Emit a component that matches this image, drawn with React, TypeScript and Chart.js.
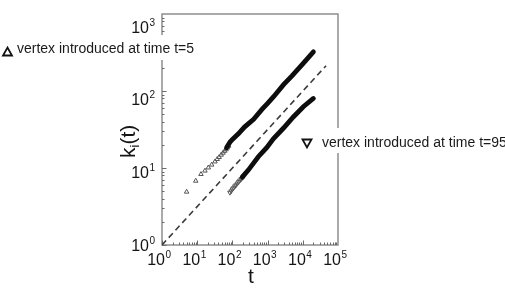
import React, { useEffect, useRef } from 'react';
import { Chart, registerables } from 'chart.js';

Chart.register(...registerables);

// ---- data ----
const xDecades = [0, 1, 2, 3, 4, 5];
const yDecades = [0, 1, 2, 3];

// vertex introduced at t=5 : sparse markers, then dense band
const t1Markers = [5, 9.1, 12.8, 16.6, 20.7, 25.7, 32, 37, 42, 48, 54, 60, 66, 72, 78];
const k1Markers = [4.9, 6.8, 8.3, 9.2, 10.1, 11.0, 12.1, 13.0, 13.8, 14.8, 15.7, 16.6, 17.4, 18.3, 19.3];
const t1Band = [68, 85, 100, 150, 220, 400, 700, 1000, 1500, 2800, 5000, 10000, 20000];
const k1Band = [18.3, 21.6, 23.5, 28, 34, 43, 58, 69, 85, 120, 158, 225, 322];

// vertex introduced at t=95
const t2Markers = [85, 92, 100, 108, 117, 127, 138, 150, 163, 178, 195, 215];
const k2Markers = [4.8, 5.0, 5.3, 5.5, 5.8, 6.0, 6.3, 6.6, 6.9, 7.2, 7.5, 7.9];
const t2Band = [190, 283, 394, 545, 942, 1457, 2800, 5380, 10350, 20000];
const k2Band = [7.6, 9.4, 11.5, 14.0, 18.4, 24.0, 32.8, 46, 62.5, 80];

// dashed reference line k ~ t^(1/2)
const tDash = [1, 45700];
const kDash = [1, 213];

const label1 = 'vertex introduced at time t=5';
const label2 = 'vertex introduced at time t=95';
const xTitle = 't';
const yTitleMain = 'k';
const yTitleSub = 'i';
const yTitleTail = '(t)';

const FONT = '"Liberation Sans", Arial, Helvetica, sans-serif';

const pts = (xs: number[], ys: number[]) => xs.map((x, i) => ({ x, y: ys[i] }));

function drawPow(ctx: CanvasRenderingContext2D, exp: number, x: number, baseline: number, mode: 'right' | 'x') {
  ctx.font = `16px ${FONT}`;
  const mainW = ctx.measureText('10').width;
  ctx.font = `10px ${FONT}`;
  const supW = ctx.measureText(String(exp)).width;
  let startX: number;
  if (mode === 'right') startX = x - supW - mainW - 0.5;
  else startX = x + 3 - mainW;
  ctx.textAlign = 'left';
  ctx.textBaseline = 'alphabetic';
  ctx.font = `16px ${FONT}`;
  ctx.fillText('10', startX, baseline);
  ctx.font = `10px ${FONT}`;
  ctx.fillText(String(exp), startX + mainW + 0.5, baseline - 7);
}

const framePlugin = {
  id: 'frame',
  beforeDatasetsDraw(chart: any) {
    const { ctx, chartArea: a, scales } = chart;
    const xs = scales.x;
    const ys = scales.y;
    ctx.save();
    ctx.strokeStyle = '#8e8e8e';
    ctx.lineWidth = 1.5;
    ctx.strokeRect(a.left, a.top, a.right - a.left, a.bottom - a.top);
    ctx.lineWidth = 1;
    ctx.strokeStyle = '#6a6a6a';
    ctx.beginPath();
    for (let d = 0; d < xDecades.length - 1; d++) {
      for (let m = 1; m < 10; m++) {
        const px = Math.round(xs.getPixelForValue(m * Math.pow(10, xDecades[d]))) + 0.5;
        const len = m === 1 ? 4.5 : 2.5;
        ctx.moveTo(px, a.bottom);
        ctx.lineTo(px, a.bottom - len);
      }
    }
    for (let d = 0; d < yDecades.length - 1; d++) {
      for (let m = 1; m < 10; m++) {
        const py = Math.round(ys.getPixelForValue(m * Math.pow(10, yDecades[d]))) + 0.5;
        const len = m === 1 ? 4.5 : 2.5;
        ctx.moveTo(a.left, py);
        ctx.lineTo(a.left + len, py);
      }
    }
    ctx.stroke();
    ctx.restore();
  },
  afterDraw(chart: any) {
    const { ctx, chartArea: a, scales } = chart;
    const xs = scales.x;
    const ys = scales.y;
    ctx.save();
    // label boxes
    ctx.fillStyle = '#ffffff';
    ctx.fillRect(0, 35, 199, 25);
    ctx.fillRect(296, 128, 209, 25);
    ctx.fillStyle = '#1a1a1a';
    ctx.strokeStyle = '#111';
    ctx.lineWidth = 1.8;
    ctx.lineJoin = 'miter';
    // up triangle
    ctx.beginPath();
    ctx.moveTo(3, 55.5);
    ctx.lineTo(12, 55.5);
    ctx.lineTo(7.5, 47.5);
    ctx.closePath();
    ctx.stroke();
    // down triangle
    ctx.beginPath();
    ctx.moveTo(302.5, 139.5);
    ctx.lineTo(311.5, 139.5);
    ctx.lineTo(307, 147.5);
    ctx.closePath();
    ctx.stroke();
    ctx.font = `14px ${FONT}`;
    ctx.textAlign = 'left';
    ctx.textBaseline = 'alphabetic';
    ctx.fillText(label1, 17, 53);
    ctx.fillText(label2, 322, 147);

    // tick labels
    ctx.fillStyle = '#151515';
    for (const e of yDecades) {
      const py = ys.getPixelForValue(Math.pow(10, e));
      const c = py + (a.bottom - py) * 0.055;
      drawPow(ctx, e, a.left - 7, c + 6, 'right');
    }
    for (const e of xDecades) {
      const px = xs.getPixelForValue(Math.pow(10, e));
      drawPow(ctx, e, px, a.bottom + 20, 'x');
    }

    // axis titles
    ctx.font = `21px ${FONT}`;
    ctx.textAlign = 'center';
    ctx.fillText(xTitle, (a.left + a.right) / 2 + 1, 283);

    ctx.translate(135, 158);
    ctx.rotate(-Math.PI / 2);
    ctx.textAlign = 'left';
    ctx.font = `21px ${FONT}`;
    ctx.fillText(yTitleMain, 0, 0);
    const kW = ctx.measureText(yTitleMain).width;
    ctx.font = `13px ${FONT}`;
    ctx.fillText(yTitleSub, kW, 4);
    const iW = ctx.measureText(yTitleSub).width;
    ctx.font = `21px ${FONT}`;
    ctx.fillText(yTitleTail, kW + iW, 0);
    ctx.restore();
  },
};

export default function App() {
  const ref = useRef<HTMLCanvasElement | null>(null);
  useEffect(() => {
    if (!ref.current) return;
    const chart = new Chart(ref.current, {
      type: 'scatter',
      data: {
        datasets: [
          {
            data: pts(tDash, kDash),
            showLine: true,
            borderColor: '#3a3a3a',
            borderWidth: 1.6,
            borderDash: [6, 4],
            pointRadius: 0,
          },
          {
            data: pts(t1Band, k1Band),
            showLine: true,
            borderColor: '#0d0d0d',
            borderWidth: 4.8,
            borderCapStyle: 'round',
            pointRadius: 0,
          },
          {
            data: pts(t1Markers, k1Markers),
            showLine: false,
            pointStyle: 'triangle',
            pointRadius: 2.6,
            borderColor: '#555',
            borderWidth: 1,
            backgroundColor: 'rgba(0,0,0,0)',
          },
          {
            data: pts(t2Band, k2Band),
            showLine: true,
            borderColor: '#0d0d0d',
            borderWidth: 4.8,
            borderCapStyle: 'round',
            pointRadius: 0,
          },
          {
            data: pts(t2Markers, k2Markers),
            showLine: false,
            pointStyle: 'triangle',
            rotation: 180,
            pointRadius: 2.6,
            borderColor: '#555',
            borderWidth: 1,
            backgroundColor: 'rgba(0,0,0,0)',
          },
        ],
      } as any,
      options: {
        animation: false,
        responsive: false,
        events: [],
        layout: { autoPadding: false, padding: { left: 162, right: 167, top: 14, bottom: 61 } },
        plugins: { legend: { display: false }, tooltip: { enabled: false } },
        scales: {
          x: { type: 'logarithmic', min: 1, max: 100000, display: false },
          y: { type: 'logarithmic', min: 1, max: 1000, display: false },
        },
      } as any,
      plugins: [framePlugin],
    });
    return () => chart.destroy();
  }, []);
  return (
    <div style={{ position: 'absolute', left: 0, top: 0, width: 505, height: 306, background: '#fff' }}>
      <canvas ref={ref} width={505} height={306} style={{ width: 505, height: 306, display: 'block' }} />
    </div>
  );
}
